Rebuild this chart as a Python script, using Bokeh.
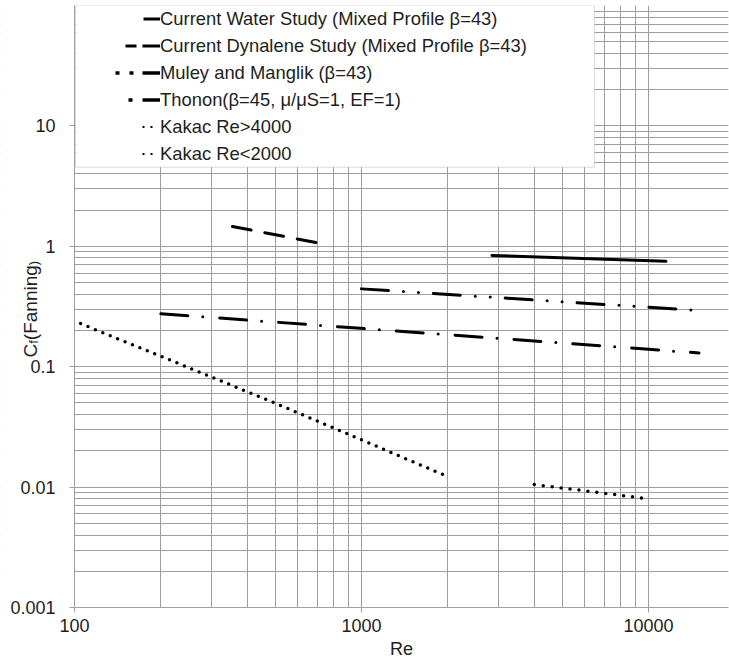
import math
from bokeh.plotting import figure
from bokeh.models import Range1d, FixedTicker, Legend, LegendItem, BoxAnnotation
from bokeh.core.properties import value
from bokeh.embed import file_html
from bokeh.resources import INLINE

# ---------------- data ----------------
water_re = [2850, 11500]
water_cf = [0.84, 0.75]

dynalene_re = [355, 700]
dynalene_cf = [1.46, 1.07]

muley_re = [1000, 15000]
muley_cf = [0.443, 0.293]

thonon_re = [200, 15000]
thonon_cf = [0.275, 0.130]

kakac_hi_re = [4000, 10000]
kakac_hi_cf = [0.0105, 0.0080]

kakac_lo_re = [105, 200, 500, 1000, 2000]
kakac_lo_cf = [0.228, 0.122, 0.0498, 0.0247, 0.0122]

series_labels = [
    "Current Water Study (Mixed Profile \u03b2=43)",
    "Current Dynalene Study (Mixed Profile \u03b2=43)",
    "Muley and Manglik (\u03b2=43)",
    "Thonon(\u03b2=45, \u03bc/\u03bcS=1, EF=1)",
    "Kakac Re>4000",
    "Kakac Re<2000",
]

x_ticks = [100, 1000, 10000]
x_tick_labels = ["100", "1000", "10000"]
y_ticks = [0.001, 0.01, 0.1, 1, 10]
y_tick_labels = ["0.001", "0.01", "0.1", "1", "10"]
x_minor = [k * 10.0 ** e for e in range(2, 5) for k in range(2, 10)]
y_minor = [k * 10.0 ** e for e in range(-3, 2) for k in range(2, 10)] + [100.0]

x_title = "Re"
y_title_parts = ["C", "f", "(Fanning", ")"]          # C_f(Fanning) with subscript f
y_title_is_sub = [False, True, False, True]

# ---------------- layout ----------------
W, H = 729, 661
FRAME_TOP = 5                  # canvas px of the frame top (Cf = 100)
FRAME_RIGHT = W - 1
AXIS_PX = 74                   # canvas x of the left axis (Re = 100)
AXIS_PY = 607                  # canvas y of the bottom axis (Cf = 0.001)
PX_PER_DECADE_X = 287.0
X_AXIS_AT, X_MAX = 100, 19000
Y_AXIS_AT, Y_MAX = 0.001, 100
PX_PER_DECADE_Y = (AXIS_PY - FRAME_TOP) / math.log10(Y_MAX / Y_AXIS_AT)
X_MIN = 10 ** (math.log10(X_AXIS_AT) - AXIS_PX / PX_PER_DECADE_X)
Y_MIN = 10 ** (math.log10(Y_AXIS_AT) - (H - AXIS_PY) / PX_PER_DECADE_Y)


def px_to_x(px):
    lo, hi = math.log10(X_MIN), math.log10(X_MAX)
    return 10 ** (lo + px / FRAME_RIGHT * (hi - lo))


def py_to_y(py):
    return 10 ** (math.log10(Y_MAX) - (py - FRAME_TOP) / PX_PER_DECADE_Y)


FONT = "Liberation Sans"
TEXT_COLOR = "#1e1e1e"
GRID_COLOR = "#9d9d9d"
AXIS_COLOR = "#a0a0a0"
NAN = float("nan")

p = figure(width=W, height=H, x_axis_type="log", y_axis_type="log",
           x_range=Range1d(X_MIN, X_MAX), y_range=Range1d(Y_MIN, Y_MAX),
           output_backend="svg", toolbar_location=None, title=None,
           min_border_left=0, min_border_right=W - FRAME_RIGHT,
           min_border_top=FRAME_TOP, min_border_bottom=0)
p.outline_line_color = None
p.background_fill_color = "white"
p.border_fill_color = "white"

p.xaxis.ticker = FixedTicker(ticks=x_ticks, minor_ticks=x_minor)
p.yaxis.ticker = FixedTicker(ticks=y_ticks, minor_ticks=y_minor)
p.xaxis.major_label_overrides = {t: l for t, l in zip(x_ticks, x_tick_labels)}
p.yaxis.major_label_overrides = {t: l for t, l in zip(y_ticks, y_tick_labels)}
p.yaxis.fixed_location = X_AXIS_AT
p.xaxis.fixed_location = Y_AXIS_AT
p.xaxis.bounds = (X_AXIS_AT, X_MAX)
p.yaxis.bounds = (Y_AXIS_AT, Y_MAX)

for ax in (p.xaxis, p.yaxis):
    ax.axis_line_color = AXIS_COLOR
    ax.major_tick_line_color = AXIS_COLOR
    ax.major_tick_out = 5
    ax.major_tick_in = 0
    ax.minor_tick_in = 0
    ax.minor_tick_out = 0
    ax.major_label_text_font = FONT
    ax.major_label_text_font_size = "18px"
    ax.major_label_text_color = TEXT_COLOR

p.xaxis.major_label_standoff = 6
p.yaxis.major_label_standoff = 14

for g in (p.xgrid, p.ygrid):
    g.grid_line_color = GRID_COLOR
    g.grid_line_width = 1
    g.minor_grid_line_color = GRID_COLOR
    g.minor_grid_line_width = 1

# white margins left of / below the axes (hide grid there)
p.add_layout(BoxAnnotation(left=X_MIN, right=X_AXIS_AT, bottom=Y_MIN, top=Y_MAX,
                           fill_color="white", fill_alpha=1.0, line_color=None,
                           level="underlay"))
p.add_layout(BoxAnnotation(left=X_MIN, right=X_MAX, bottom=Y_MIN, top=Y_AXIS_AT,
                           fill_color="white", fill_alpha=1.0, line_color=None,
                           level="underlay"))

# ---------------- data lines ----------------
p.line(water_re, water_cf, line_color="black", line_width=3, line_cap="round")
p.line(dynalene_re, dynalene_cf, line_color="black", line_width=3,
       line_cap="round", line_dash="19 14")
p.line(muley_re, muley_cf, line_color="black", line_width=3,
       line_cap="round", line_dash="27 15 0 15 0 15")
p.line(thonon_re, thonon_cf, line_color="black", line_width=3,
       line_cap="round", line_dash="27 15 0 17")
p.line(kakac_hi_re, kakac_hi_cf, line_color="black", line_width=3.5,
       line_cap="round", line_dash="0 9")
p.line(kakac_lo_re, kakac_lo_cf, line_color="black", line_width=3.5,
       line_cap="round", line_dash="0 8")

# ---------------- legend ----------------
p.add_layout(BoxAnnotation(left=px_to_x(75), right=px_to_x(594),
                           bottom=py_to_y(166.7), top=Y_MAX,
                           fill_color="white", fill_alpha=1.0,
                           line_color="#8a8a8a", line_width=1))

legend_styles = [
    dict(line_dash="0 143 17 100", line_width=3),
    dict(line_dash="0 125 11 6 18 100", line_width=3),
    dict(line_dash="0 115 4 10 4 9 18 100", line_width=3.5),
    dict(line_dash="0 128 4 10 18 100", line_width=3.5),
    dict(line_dash="0 142 2 6 2 100", line_width=2),
    dict(line_dash="0 142 2 6 2 100", line_width=2),
]
items = []
for lab, st in zip(series_labels, legend_styles):
    # legend-only sample renderer (no visible data)
    r = p.line(x=[NAN], y=[NAN], line_color="black", line_cap="butt", **st)
    items.append(LegendItem(label=lab, renderers=[r]))

legend = Legend(items=items, location="top_left", margin=0, padding=0, spacing=0,
                glyph_width=160, glyph_height=27, label_height=27, label_standoff=0,
                label_text_font=FONT, label_text_font_size="18.4px",
                label_text_color=TEXT_COLOR,
                background_fill_alpha=0, border_line_color=None)
p.add_layout(legend)

# ---------------- axis titles ----------------
p.text(x=[px_to_x((AXIS_PX + FRAME_RIGHT) / 2)], y=[py_to_y(648)], text=[x_title],
       text_font=value(FONT), text_font_size="18px", text_color=TEXT_COLOR,
       text_baseline="middle", text_align="center")

start_py = 357.0
main_px, sub_px = 29.5, 33.0
main_size, sub_size = 19, 13
advance = {"C": 0.722, "f": 0.278, "(Fanning": 3.946, ")": 0.333}  # Arial widths (em)
big_x, big_y, big_t, small_x, small_y, small_t = [], [], [], [], [], []
py = start_py
for part, sub in zip(y_title_parts, y_title_is_sub):
    if sub:
        small_x.append(px_to_x(sub_px)); small_y.append(py_to_y(py)); small_t.append(part)
        py -= advance[part] * sub_size
    else:
        big_x.append(px_to_x(main_px)); big_y.append(py_to_y(py)); big_t.append(part)
        py -= advance[part] * main_size

p.text(x=big_x, y=big_y, text=big_t, angle=math.pi / 2, text_font=value(FONT),
       text_font_size=f"{main_size}px", text_color=TEXT_COLOR,
       text_baseline="alphabetic", text_align="left")
p.text(x=small_x, y=small_y, text=small_t, angle=math.pi / 2, text_font=value(FONT),
       text_font_size=f"{sub_size}px", text_color=TEXT_COLOR,
       text_baseline="alphabetic", text_align="left")

open("out.html", "w").write(file_html(p, INLINE))
